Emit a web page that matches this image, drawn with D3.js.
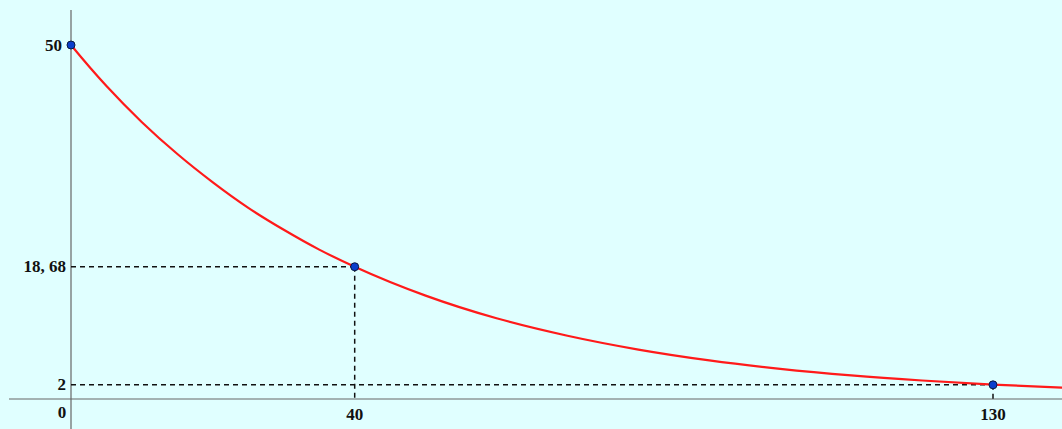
<!DOCTYPE html>
<html>
<head>
<meta charset="utf-8">
<script src="https://cdn.jsdelivr.net/npm/d3@7"></script>
<style>
  html, body { margin: 0; padding: 0; background: #e0ffff; }
  svg { display: block; }
  .lbl { font-family: "Liberation Serif", "DejaVu Serif", serif; font-weight: bold; font-size: 17px; fill: #111; }
</style>
</head>
<body>
<svg id="chart"></svg>
<script>
// curve values
var curveX = [-2, 0, 5, 10, 15, 20, 25, 30, 35, 40, 50, 60, 70, 80, 90, 100, 110, 120, 130, 140];
var curveY = [52.5, 50, 44.2, 39.1, 34.6, 30.6, 27.0, 23.9, 21.1, 18.68, 14.6, 11.4, 8.93, 6.98, 5.45, 4.26, 3.33, 2.61, 2.04, 1.59];

// marked points
var pointX = [0, 40, 130];
var pointY = [50, 18.68, 2];

var xTicks = [40, 130];
var xTickLabels = ["40", "130"];
var yTicks = [50, 18.68, 2];
var yTickLabels = ["50", "18, 68", "2"];

var width = 1062, height = 429;

var svg = d3.select("#chart")
            .attr("width", width)
            .attr("height", height);

svg.append("rect")
    .attr("width", width)
    .attr("height", height)
    .attr("fill", "#e0ffff");

var x = d3.scaleLinear().domain([0, 130]).range([71, 993]);
var y = d3.scaleLinear().domain([0, 50]).range([399, 45]);

// axes
svg.append("line")
    .attr("x1", 9).attr("x2", width)
    .attr("y1", y(0)).attr("y2", y(0))
    .attr("stroke", "#666").attr("stroke-width", 1.2);

svg.append("line")
    .attr("x1", x(0)).attr("x2", x(0))
    .attr("y1", 10).attr("y2", height)
    .attr("stroke", "#666").attr("stroke-width", 1.2);

// dashed guides
var guides = svg.append("g")
    .attr("stroke", "#111")
    .attr("stroke-width", 1.5)
    .attr("stroke-dasharray", "5,4")
    .attr("fill", "none");

pointX.forEach(function(px, i) {
  if (px === 0) return;
  var py = pointY[i];
  guides.append("line")
      .attr("x1", x(0)).attr("x2", x(px))
      .attr("y1", y(py)).attr("y2", y(py));
  guides.append("line")
      .attr("x1", x(px)).attr("x2", x(px))
      .attr("y1", y(py)).attr("y2", y(0));
});

// curve
svg.append("clipPath").attr("id", "clip")
  .append("rect").attr("x", x(0)).attr("y", 0).attr("width", width - x(0)).attr("height", height);

var line = d3.line()
    .x(function(d) { return x(d[0]); })
    .y(function(d) { return y(d[1]); })
    .curve(d3.curveMonotoneX);

svg.append("path")
    .datum(curveX.map(function(v, i) { return [v, curveY[i]]; }))
    .attr("clip-path", "url(#clip)")
    .attr("d", line)
    .attr("fill", "none")
    .attr("stroke", "#ff1a1a")
    .attr("stroke-width", 2.2);

// points
svg.selectAll(".pt")
    .data(pointX.map(function(v, i) { return [v, pointY[i]]; }))
  .enter().append("circle")
    .classed("pt", true)
    .attr("cx", function(d) { return x(d[0]); })
    .attr("cy", function(d) { return y(d[1]); })
    .attr("r", 4)
    .attr("fill", "#0b3fcc")
    .attr("stroke", "#0a1a40")
    .attr("stroke-width", 1);

// labels
svg.selectAll(".xl")
    .data(xTicks)
  .enter().append("text")
    .classed("lbl", true)
    .attr("x", function(d) { return x(d); })
    .attr("y", 420)
    .attr("text-anchor", "middle")
    .text(function(d, i) { return xTickLabels[i]; });

svg.selectAll(".yl")
    .data(yTicks)
  .enter().append("text")
    .classed("lbl", true)
    .attr("x", function(d, i) { return i === 0 ? 62 : 66; })
    .attr("y", function(d) { return y(d) + 5.5; })
    .attr("text-anchor", "end")
    .text(function(d, i) { return yTickLabels[i]; });

svg.append("text")
    .classed("lbl", true)
    .attr("x", 62)
    .attr("y", 418)
    .attr("text-anchor", "middle")
    .text("0");
</script>
</body>
</html>
